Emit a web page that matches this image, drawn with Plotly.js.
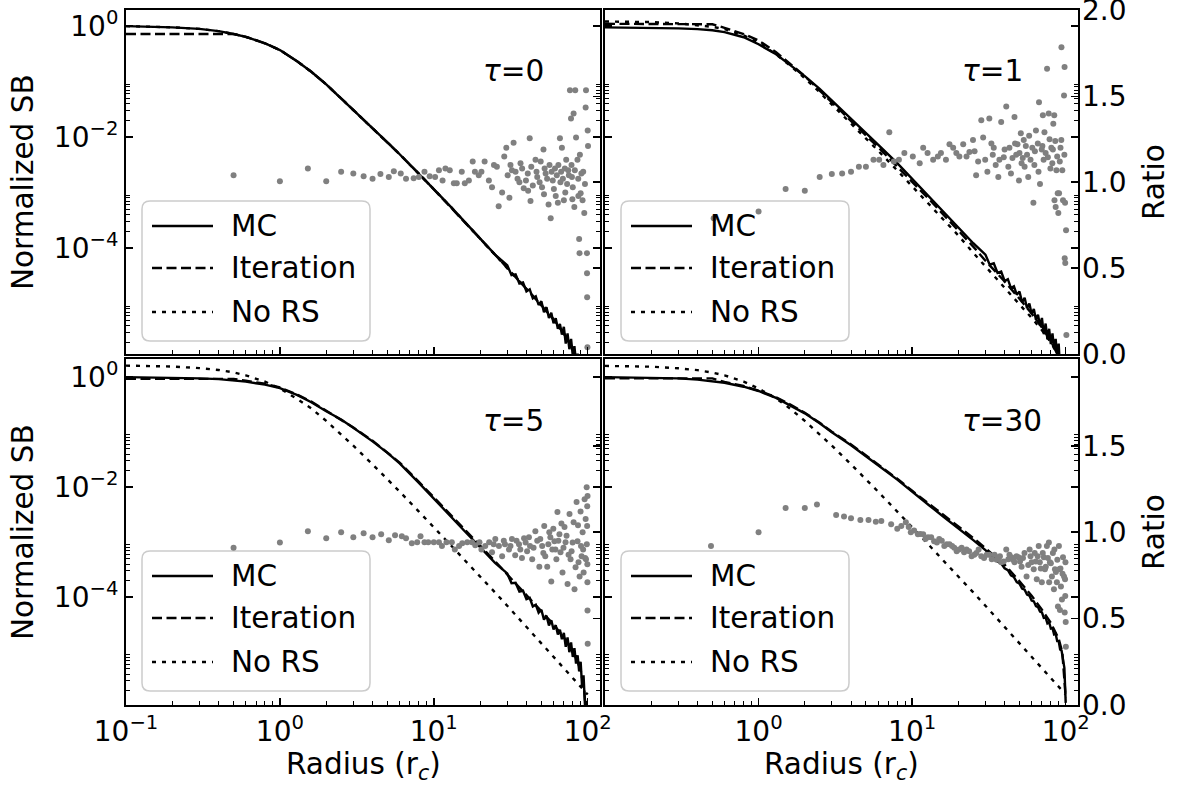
<!DOCTYPE html>
<html>
<head>
<meta charset="utf-8">
<script src="https://cdn.plot.ly/plotly-3.0.1.min.js"></script>
<style>
  html, body { margin: 0; padding: 0; background: #ffffff; }
  #chart { width: 1180px; height: 786px; }
</style>
</head>
<body>
<div id="chart"></div>
<script>
// ---------------------------------------------------------------
// Surface-brightness profiles (normalized SB vs radius in r_c)
// and the MC / iteration ratio for four optical depths.
// ---------------------------------------------------------------

// radius grids
const rCore  = [0.1, 0.15, 0.2, 0.3, 0.4, 0.5, 0.6, 0.8, 1, 1.3, 1.6, 2, 2.5, 3, 4, 5, 6, 8, 10, 13, 16, 20, 25];
const rOuter = [30, 40, 50, 60, 70, 80, 90, 95, 100];
const rNoisy = [30, 32, 34, 36, 38, 40, 42, 44, 46, 48, 50, 52, 54, 56, 58, 60, 62, 64, 66, 68,
                70, 72, 74, 76, 78, 80, 82, 84, 86, 88, 90, 92, 94, 96, 98, 100];

// tau = 0
const mcCoreT0 = [1.0, 0.98, 0.95, 0.89, 0.81, 0.72, 0.64, 0.49, 0.37, 0.23, 0.15, 0.089, 0.05, 0.031, 0.0145, 0.008, 0.0049, 0.0022, 0.00115, 0.00054, 0.00029, 0.000148, 7.6e-5];
const mcTailT0 = [4.9e-5, 3.25e-5, 3.35e-5, 2.3e-5, 2.4e-5, 1.65e-5, 1.8e-5, 1.24e-5, 1.35e-5, 9.4e-6,
                  1.1e-5, 7.0e-6, 8.6e-6, 5.5e-6, 6.8e-6, 4.4e-6, 5.4e-6, 3.5e-6, 4.3e-6, 2.75e-6,
                  3.8e-6, 1.9e-6, 2.9e-6, 1.5e-6, 2.3e-6, 1.15e-6, 1.7e-6, 8.5e-7, 1.25e-6, 6e-7,
                  1.0e-6, 3.2e-7, 6.2e-7, 1.8e-7, 3.0e-7, 1.0e-7];
const iterT0 = [0.72, 0.72, 0.72, 0.72, 0.72, 0.72, 0.64, 0.49, 0.37, 0.23, 0.15, 0.089, 0.05, 0.031, 0.0145, 0.008, 0.0049, 0.0022, 0.00115, 0.00054, 0.00029, 0.000148, 7.6e-5,
                4.4e-5, 1.85e-5, 9.3e-6, 5.15e-6, 2.9e-6, 1.52e-6, 6.6e-7, 3.5e-7, 1e-7];
const noRsT0 = [1.0, 0.98, 0.95, 0.89, 0.81, 0.72, 0.64, 0.49, 0.37, 0.23, 0.15, 0.089, 0.05, 0.031, 0.0145, 0.008, 0.0049, 0.0022, 0.00115, 0.00054, 0.00029, 0.000148, 7.6e-5,
                4.4e-5, 1.85e-5, 9.3e-6, 5.15e-6, 2.9e-6, 1.52e-6, 6.6e-7, 3.5e-7, 1e-7];
const ratioRT0 = [0.5, 1.0, 1.52, 2.0, 2.5, 3.0, 3.5, 4.0, 4.5, 5.1,
                  5.5, 6.1, 6.6, 7.4, 8.0, 8.7, 9.4, 10.2, 10.8, 11.4,
                  11.9, 12.7, 13.5, 14.1, 15.2, 15.9, 16.9, 17.9, 18.5, 19.6,
                  20.4, 21.4, 22.8, 23.9, 24.6, 25.7, 26.4, 27.8, 28.7, 29.6,
                  30.2, 31.0, 31.5, 32.2, 33.0, 34.0, 35.0, 36.0, 36.6, 37.5,
                  38.4, 39.7, 40.8, 41.0, 42.0, 42.5, 43.0, 44.0, 45.8, 46.5,
                  47.0, 48.7, 49.5, 50.5, 51.6, 52.0, 52.5, 53.3, 54.5, 55.7,
                  56.5, 57.5, 58.3, 59.3, 60.3, 61.3, 62.0, 63.0, 64.0, 64.5,
                  66.0, 66.5, 67.2, 68.0, 69.0, 70.0, 71.0, 71.5, 72.5, 73.5,
                  74.7, 75.5, 76.7, 77.9, 78.5, 79.0, 79.5, 80.0, 81.0, 81.9,
                  82.5, 83.0, 84.0, 85.8, 86.8, 87.0, 88.0, 88.5, 89.0, 90.0,
                  91.0, 92.6, 93.5, 95.0, 96.0, 97.0, 97.5, 98.9, 99.0, 99.2,
                  99.6, 100.0, 100.5];
const ratioVT0 = [1.04, 1.006, 1.08, 1.006, 1.06, 1.05, 1.035, 1.02, 1.047, 1.03,
                  1.064, 1.05, 1.02, 1.023, 1.03, 1.06, 1.035, 1.03, 1.07, 1.01,
                  1.08, 1.07, 0.994, 0.994, 1.06, 0.994, 1.01, 1.12, 1.06, 1.04,
                  1.06, 1.12, 1.01, 0.97, 1.10, 1.09, 0.86, 0.94, 1.15, 1.20,
                  1.04, 0.91, 1.10, 1.07, 1.23, 1.06, 1.02, 1.0, 1.11, 1.08,
                  0.965, 1.01, 1.05, 0.95, 1.255, 0.89, 1.09, 0.98, 1.13, 1.06,
                  1.03, 1.0, 1.12, 0.97, 1.19, 0.93, 1.08, 1.05, 1.02, 0.87,
                  1.10, 0.79, 1.06, 1.01, 0.96, 1.08, 0.92, 1.04, 0.88, 1.10,
                  1.255, 1.0, 1.06, 1.20, 1.02, 0.895, 1.08, 0.94, 1.13, 0.99,
                  1.07, 1.04, 1.535, 1.37, 1.10, 1.03, 0.9, 0.97, 1.40, 0.855,
                  1.07, 1.535, 1.26, 1.13, 1.02, 0.92, 0.67, 0.587, 1.16, 0.936,
                  1.05, 0.895, 1.06, 0.82, 0.99, 1.435, 1.535, 0.587, 0.47, 0.33,
                  0.04, 1.30, 1.21];

// tau = 1
const mcCoreT1 = [0.95, 0.945, 0.935, 0.91, 0.88, 0.84, 0.78, 0.63, 0.47, 0.31, 0.2, 0.125, 0.074, 0.046, 0.021, 0.0118, 0.0073, 0.0034, 0.00178, 0.00085, 0.00046, 0.00024, 0.000122];
const mcTailT1 = [7.6e-5, 5.0e-5, 5.3e-5, 3.55e-5, 3.75e-5, 2.55e-5, 2.75e-5, 1.9e-5, 2.05e-5, 1.44e-5,
                  1.65e-5, 1.05e-5, 1.27e-5, 8.2e-6, 1.0e-5, 6.5e-6, 8.0e-6, 5.1e-6, 6.3e-6, 4.0e-6,
                  5.5e-6, 2.8e-6, 4.35e-6, 2.25e-6, 3.5e-6, 1.85e-6, 2.9e-6, 1.5e-6, 2.3e-6, 1.1e-6,
                  1.9e-6, 6e-7, 1.1e-6, 3e-7, 4.5e-7, 1.5e-7];
const iterT1 = [1.1, 1.1, 1.1, 1.1, 1.1, 1.08, 0.93, 0.72, 0.55, 0.34, 0.21, 0.125, 0.069, 0.042, 0.019, 0.0107, 0.0066, 0.003, 0.00156, 0.00074, 0.0004, 0.00021, 0.000106,
                5.9e-5, 2.5e-5, 1.22e-5, 6.6e-6, 3.7e-6, 2.1e-6, 1.1e-6, 6.5e-7, 1.3e-7];
const noRsT1 = [1.21, 1.2, 1.18, 1.12, 1.05, 0.97, 0.88, 0.68, 0.5, 0.31, 0.195, 0.115, 0.064, 0.039, 0.0175, 0.0095, 0.0057, 0.0025, 0.0013, 0.00061, 0.00033, 0.000168, 8.2e-5,
                4.7e-5, 1.95e-5, 9.8e-6, 5.5e-6, 3.3e-6, 2.0e-6, 1.15e-6, 8e-7, 4e-7];
const ratioRT1 = [0.51, 1.0, 1.5, 2.0, 2.5, 3.0, 3.5, 4.0, 4.5, 5.0,
                  5.6, 6.1, 6.5, 7.1, 7.6, 8.2, 8.9, 10.1, 11.2, 11.8,
                  12.6, 13.7, 14.7, 15.4, 16.6, 17.5, 18.5, 19.4, 20.3, 21.5,
                  22.6, 23.6, 24.9, 25.5, 26.1, 26.9, 28.2, 29.0, 29.9, 30.9,
                  31.8, 32.8, 33.5, 34.0, 35.0, 36.4, 37.0, 38.0, 39.5, 40.0,
                  41.0, 42.3, 43.0, 44.0, 45.0, 46.4, 46.8, 47.6, 48.5, 49.6,
                  50.0, 51.0, 51.6, 52.5, 53.3, 54.0, 55.0, 56.0, 57.0, 57.8,
                  59.0, 60.6, 61.6, 62.5, 63.0, 64.0, 65.8, 66.5, 67.0, 68.0,
                  69.8, 70.5, 71.0, 71.8, 72.7, 74.0, 75.6, 76.5, 77.5, 78.5,
                  79.5, 80.6, 81.8, 82.5, 83.0, 84.2, 84.5, 85.5, 86.0, 87.0,
                  88.0, 88.7, 89.5, 90.5, 91.5, 92.5, 93.6, 93.8, 95.0, 96.0,
                  97.5, 98.0, 98.3, 98.5, 99.0, 99.3, 100.5, 101.0];
const ratioVT1 = [0.79, 0.83, 0.96, 0.95, 1.03, 1.047, 1.05, 1.06, 1.09, 1.09,
                  1.13, 1.13, 1.10, 1.29, 1.12, 1.13, 1.17, 1.15, 1.11, 1.20,
                  1.17, 1.13, 1.15, 1.17, 1.13, 1.22, 1.20, 1.17, 1.15, 1.22,
                  1.15, 1.175, 1.245, 1.18, 1.04, 1.12, 1.36, 1.26, 1.13, 1.06,
                  1.37, 1.225, 1.16, 1.20, 1.10, 1.03, 1.13, 1.35, 1.145, 1.19,
                  1.44, 1.09, 1.20, 1.05, 1.14, 1.38, 1.225, 1.16, 1.22, 1.01,
                  1.17, 1.285, 1.11, 1.14, 1.245, 1.09, 1.21, 1.16, 1.03, 1.27,
                  1.13, 1.20, 0.88, 1.10, 1.18, 1.30, 1.225, 1.06, 1.465, 0.99,
                  1.19, 1.21, 1.39, 1.13, 1.29, 1.17, 1.66, 1.145, 1.40, 1.25,
                  1.08, 1.20, 1.11, 1.19, 1.34, 1.39, 0.895, 1.24, 0.855, 1.07,
                  1.15, 0.935, 0.82, 0.935, 1.12, 1.20, 1.245, 1.785, 1.07, 0.895,
                  1.505, 1.16, 1.67, 0.557, 0.88, 0.53, 0.72, 0.11];

// tau = 5
const mcCoreT5 = [1.0, 0.99, 0.98, 0.95, 0.92, 0.88, 0.83, 0.73, 0.63, 0.47, 0.35, 0.24, 0.17, 0.12, 0.068, 0.042, 0.027, 0.012, 0.0063, 0.0029, 0.00155, 0.00081, 0.00042];
const mcTailT5 = [2.7e-4, 1.8e-4, 1.83e-4, 1.26e-4, 1.31e-4, 9.2e-5, 9.7e-5, 6.8e-5, 7.3e-5, 5.2e-5,
                  5.9e-5, 3.9e-5, 4.6e-5, 3.05e-5, 3.8e-5, 2.6e-5, 3.1e-5, 2.1e-5, 2.55e-5, 1.72e-5,
                  2.25e-5, 1.25e-5, 1.85e-5, 1.0e-5, 1.5e-5, 8.2e-6, 1.18e-5, 6.2e-6, 8.8e-6, 4.5e-6,
                  6.7e-6, 2.3e-6, 3.8e-6, 1.1e-6, 1.3e-6, 3e-7];
const iterT5 = [0.93, 0.93, 0.93, 0.93, 0.93, 0.93, 0.86, 0.76, 0.65, 0.48, 0.36, 0.245, 0.172, 0.122, 0.07, 0.043, 0.028, 0.0125, 0.0066, 0.0031, 0.00165, 0.00087, 0.00045,
                0.00026, 0.000108, 5.5e-5, 3.2e-5, 1.85e-5, 1.1e-5, 4.8e-6, 2.0e-6, 3e-7];
const noRsT5 = [1.62, 1.6, 1.56, 1.46, 1.35, 1.22, 1.08, 0.83, 0.62, 0.4, 0.27, 0.16, 0.092, 0.057, 0.026, 0.014, 0.0083, 0.0036, 0.0019, 0.00086, 0.00046, 0.00024, 0.000122,
                7e-5, 2.9e-5, 1.48e-5, 8.5e-6, 5.3e-6, 3.5e-6, 2.4e-6, 2.0e-6, 1.7e-6];
const ratioRT5 = [0.5, 1.0, 1.52, 2.0, 2.5, 3.0, 3.5, 4.0, 4.55, 5.1,
                  5.6, 6.2, 6.6, 7.2, 7.8, 8.2, 8.7, 9.2, 10.0, 10.8,
                  11.3, 12.1, 13.1, 13.7, 14.6, 15.3, 16.5, 17.7, 18.6, 19.8,
                  20.4, 21.6, 22.9, 23.9, 24.5, 25.1, 26.5, 27.8, 28.5, 29.0,
                  30.8, 31.5, 32.2, 33.8, 34.5, 35.8, 36.5, 37.4, 38.6, 39.5,
                  40.4, 41.5, 42.2, 43.6, 44.5, 45.7, 47.0, 48.5, 49.2, 50.6,
                  51.5, 52.2, 53.0, 54.6, 55.5, 56.3, 57.2, 58.0, 58.9, 59.8,
                  60.8, 61.7, 62.6, 63.6, 64.5, 65.5, 66.6, 67.5, 68.6, 69.6,
                  70.7, 71.8, 72.9, 74.0, 75.1, 76.2, 77.4, 78.6, 79.8, 81.0,
                  82.1, 83.4, 84.7, 85.9, 86.5, 87.2, 88.6, 89.9, 90.5, 91.3,
                  92.7, 93.4, 94.1, 95.5, 96.2, 97.0, 97.5, 98.5, 98.7, 99.2,
                  99.3, 99.5, 99.6, 99.7, 99.8, 100.0];
const ratioVT5 = [0.91, 0.94, 1.005, 0.965, 1.0, 0.97, 0.994, 0.97, 0.988, 0.953,
                  0.982, 0.977, 0.965, 0.936, 0.942, 0.977, 0.942, 0.942, 0.942, 0.942,
                  0.92, 0.942, 0.942, 0.90, 0.92, 0.936, 0.942, 0.942, 0.925, 0.942,
                  0.90, 0.92, 0.942, 0.884, 0.93, 0.96, 0.92, 0.86, 0.95, 0.93,
                  0.90, 0.92, 0.96, 0.866, 0.95, 0.93, 0.90, 0.85, 0.965, 0.94,
                  0.89, 0.97, 0.92, 0.843, 0.91, 1.006, 0.95, 0.80, 0.96, 0.92,
                  0.88, 1.035, 0.86, 0.80, 0.93, 1.0, 0.97, 0.715, 0.90, 1.02,
                  0.948, 0.90, 0.843, 1.116, 0.95, 0.988, 0.884, 1.05, 0.767, 0.91,
                  1.03, 0.942, 0.98, 0.70, 0.87, 1.105, 0.843, 0.89, 0.94, 1.058,
                  0.67, 0.797, 1.174, 0.948, 1.04, 0.826, 0.744, 1.12, 0.92, 0.86,
                  1.0, 0.90, 0.767, 1.19, 0.85, 1.076, 0.843, 1.26, 0.93, 1.035,
                  1.15, 0.814, 0.71, 0.547, 1.21, 0.355];

// tau = 30
const mcCoreT30 = [1.0, 0.99, 0.98, 0.95, 0.9, 0.85, 0.79, 0.67, 0.56, 0.42, 0.31, 0.22, 0.145, 0.1, 0.058, 0.037, 0.025, 0.0137, 0.0082, 0.0046, 0.0029, 0.0018, 0.00109];
const mcTailT30 = [7.2e-4, 5.9e-4, 5.45e-4, 4.45e-4, 4.1e-4, 3.35e-4, 3.1e-4, 2.5e-4, 2.32e-4, 1.88e-4,
                   1.76e-4, 1.44e-4, 1.37e-4, 1.12e-4, 1.07e-4, 8.7e-5, 8.4e-5, 6.9e-5, 6.6e-5, 5.5e-5,
                   5.3e-5, 4.2e-5, 4.25e-5, 3.35e-5, 3.5e-5, 2.7e-5, 2.75e-5, 2.1e-5, 2.15e-5, 1.6e-5,
                   1.6e-5, 1.12e-5, 1.07e-5, 6.8e-6, 5.2e-6, 1.2e-6];
const iterT30 = [0.95, 0.95, 0.95, 0.95, 0.95, 0.95, 0.82, 0.69, 0.57, 0.43, 0.32, 0.225, 0.148, 0.102, 0.06, 0.038, 0.026, 0.0142, 0.0086, 0.0049, 0.0031, 0.00195, 0.00119,
                 7.8e-4, 3.9e-4, 1.95e-4, 1.06e-4, 5.9e-5, 3.4e-5, 1.75e-5, 1.0e-5, 1.5e-6];
const noRsT30 = [1.6, 1.58, 1.55, 1.45, 1.34, 1.21, 1.08, 0.83, 0.62, 0.41, 0.27, 0.16, 0.092, 0.057, 0.026, 0.014, 0.0083, 0.0036, 0.0019, 0.00086, 0.00046, 0.00024, 0.000122,
                 7e-5, 2.9e-5, 1.48e-5, 8.5e-6, 5.3e-6, 3.5e-6, 2.4e-6, 2.0e-6, 1.7e-6];
const ratioRT30 = [0.49, 1.0, 1.5, 2.0, 2.4, 3.2, 3.6, 4.0, 4.6, 5.2,
                   5.8, 6.3, 7.3, 8.0, 8.5, 9.1, 9.5, 9.8, 10.3, 10.9,
                   11.3, 11.8, 12.2, 12.7, 13.3, 13.9, 14.5, 15.0, 15.6, 16.2,
                   16.8, 17.5, 18.2, 18.8, 19.5, 20.2, 21.0, 21.8, 22.6, 23.5,
                   24.4, 25.4, 26.2, 27.1, 28.2, 29.4, 30.6, 31.8, 33.0, 34.4,
                   35.5, 36.6, 37.3, 38.0, 39.5, 41.0, 42.3, 43.0, 44.3, 45.4,
                   46.4, 47.8, 49.2, 50.4, 51.6, 52.7, 53.9, 55.6, 57.0, 58.2,
                   59.0, 60.0, 61.9, 62.8, 63.8, 64.8, 65.7, 66.7, 67.8, 68.8,
                   69.9, 70.9, 72.1, 73.2, 74.2, 75.4, 76.5, 77.7, 78.0, 78.9,
                   80.0, 81.3, 82.5, 83.8, 84.4, 85.1, 86.3, 87.6, 88.2, 89.0,
                   90.3, 90.8, 91.7, 92.4, 93.1, 94.5, 95.3, 96.0, 97.5, 98.5,
                   99.0, 99.3, 99.6, 100.0, 100.2];
const ratioVT30 = [0.92, 1.0, 1.14, 1.14, 1.16, 1.10, 1.09, 1.08, 1.07, 1.07,
                   1.06, 1.064, 1.046, 1.02, 1.035, 1.058, 1.03, 1.0, 1.01, 0.988,
                   0.99, 0.988, 0.96, 0.97, 0.97, 0.948, 0.94, 0.96, 0.95, 0.92,
                   0.93, 0.93, 0.92, 0.91, 0.89, 0.90, 0.91, 0.884, 0.90, 0.89,
                   0.86, 0.87, 0.88, 0.90, 0.86, 0.85, 0.87, 0.87, 0.843, 0.87,
                   0.84, 0.855, 0.86, 0.826, 0.83, 0.90, 0.843, 0.87, 0.855, 0.84,
                   0.826, 0.86, 0.855, 0.83, 0.80, 0.85, 0.88, 0.744, 0.81, 0.90,
                   0.86, 0.826, 0.785, 0.88, 0.83, 0.727, 0.86, 0.92, 0.826, 0.79,
                   0.71, 0.88, 0.855, 0.785, 0.80, 0.92, 0.85, 0.94, 0.71, 0.826,
                   0.82, 0.744, 0.88, 0.67, 0.90, 0.785, 0.77, 0.71, 0.84, 0.57,
                   0.92, 0.785, 0.55, 0.79, 0.686, 0.61, 0.76, 0.855, 0.744, 0.535,
                   0.727, 0.63, 0.826, 0.48, 0.337];

// axis ticks
const SB_TICKS = [1, 1e-2, 1e-4];
const SB_TICKTEXT = ['10<sup>0</sup>', '10<sup>\u22122</sup>', '10<sup>\u22124</sup>'];
const SB_MINOR = [0.02, 0.03, 0.04, 0.05, 0.06, 0.07, 0.08, 0.09,
                  2e-4, 3e-4, 4e-4, 5e-4, 6e-4, 7e-4, 8e-4, 9e-4,
                  2e-6, 3e-6, 4e-6, 5e-6, 6e-6, 7e-6, 8e-6, 9e-6];
const R_TICKS = [0.1, 1, 10, 100];
const R_TICKTEXT = ['10<sup>\u22121</sup>', '10<sup>0</sup>', '10<sup>1</sup>', '10<sup>2</sup>'];
const R_TICKS_RIGHT = [1, 10, 100];
const R_TICKTEXT_RIGHT = ['10<sup>0</sup>', '10<sup>1</sup>', '10<sup>2</sup>'];
const R_MINOR = [0.2, 0.3, 0.4, 0.5, 0.6, 0.7, 0.8, 0.9,
                 2, 3, 4, 5, 6, 7, 8, 9,
                 20, 30, 40, 50, 60, 70, 80, 90];
const RATIO_TICKS_TOP = [0, 0.5, 1, 1.5, 2];
const RATIO_TICKTEXT_TOP = ['0.0', '0.5', '1.0', '1.5', '2.0'];
const RATIO_TICKS_BOTTOM = [0, 0.5, 1, 1.5];
const RATIO_TICKTEXT_BOTTOM = ['0.0', '0.5', '1.0', '1.5'];

const tauLabels = ['0', '1', '5', '30'];
const seriesNames = ['MC', 'Iteration', 'No RS'];

// ---------------------------------------------------------------
const W = 1180, H = 786;
const TICK_FONT = { family: 'DejaVu Sans, Liberation Sans, sans-serif', size: 28, color: '#000000' };
const TEXT_FONT = { family: 'DejaVu Sans, Liberation Sans, sans-serif', size: 29.5, color: '#000000' };
const fx = p => p / W;          // pixel -> paper (x)
const fy = p => 1 - p / H;      // pixel -> paper (y)

const DASH_ITER = '10px,4.5px';
const DASH_NORS = '4px,6px';
const LINE_W = 2.4;

const panels = [
  { col: 0, row: 0, mcCore: mcCoreT0, mcTail: mcTailT0, iter: iterT0, noRs: noRsT0, rr: ratioRT0, rv: ratioVT0, sbRange: [-5.91, 0.29] },
  { col: 1, row: 0, mcCore: mcCoreT1, mcTail: mcTailT1, iter: iterT1, noRs: noRsT1, rr: ratioRT1, rv: ratioVT1, sbRange: [-5.91, 0.29] },
  { col: 0, row: 1, mcCore: mcCoreT5, mcTail: mcTailT5, iter: iterT5, noRs: noRsT5, rr: ratioRT5, rv: ratioVT5, sbRange: [-5.96, 0.33] },
  { col: 1, row: 1, mcCore: mcCoreT30, mcTail: mcTailT30, iter: iterT30, noRs: noRsT30, rr: ratioRT30, rv: ratioVT30, sbRange: [-5.96, 0.33] }
];

const colPx = [[126, 600], [605, 1078]];
const rowPx = [[10, 354], [359, 705]];

const traces = [];
const layout = {
  width: W, height: H,
  margin: { l: 0, r: 0, t: 0, b: 0 },
  paper_bgcolor: '#ffffff',
  plot_bgcolor: 'rgba(0,0,0,0)',
  showlegend: false,
  font: TICK_FONT,
  shapes: [],
  annotations: []
};

const rMC = rCore.concat(rNoisy);
const rSmooth = rCore.concat(rOuter);

panels.forEach((p, i) => {
  const n = i + 1;
  const xId = n === 1 ? 'x' : 'x' + n;
  const yId = n === 1 ? 'y' : 'y' + n;
  const y2Id = 'y' + (n + 4);
  const xKey = n === 1 ? 'xaxis' : 'xaxis' + n;
  const yKey = n === 1 ? 'yaxis' : 'yaxis' + n;
  const y2Key = 'yaxis' + (n + 4);
  const isLeft = p.col === 0, isBottom = p.row === 1;

  traces.push({ type: 'scatter', mode: 'lines', name: seriesNames[0], x: rMC, y: p.mcCore.concat(p.mcTail),
    xaxis: xId, yaxis: yId, line: { color: '#000', width: LINE_W }, hoverinfo: 'skip' });
  traces.push({ type: 'scatter', mode: 'lines', name: seriesNames[1], x: rSmooth, y: p.iter,
    xaxis: xId, yaxis: yId, line: { color: '#000', width: LINE_W, dash: DASH_ITER }, hoverinfo: 'skip' });
  traces.push({ type: 'scatter', mode: 'lines', name: seriesNames[2], x: rSmooth, y: p.noRs,
    xaxis: xId, yaxis: yId, line: { color: '#000', width: LINE_W, dash: DASH_NORS }, hoverinfo: 'skip' });
  traces.push({ type: 'scatter', mode: 'markers', name: 'Ratio', x: p.rr, y: p.rv,
    xaxis: xId, yaxis: y2Id, marker: { color: '#808080', size: 6 }, hoverinfo: 'skip' });

  const cx = colPx[p.col], ry = rowPx[p.row];

  layout[xKey] = {
    type: 'log', domain: [fx(cx[0]), fx(cx[1])], anchor: yId, range: [-1, 2.08],
    tickmode: 'array',
    tickvals: isLeft ? R_TICKS : R_TICKS_RIGHT,
    ticktext: isLeft ? R_TICKTEXT : R_TICKTEXT_RIGHT,
    showticklabels: isBottom, ticklabeloverflow: 'allow',
    ticks: 'inside', ticklen: 7, tickwidth: 1.5, tickcolor: '#000',
    minor: { tickmode: 'array', tickvals: R_MINOR, ticks: 'inside', ticklen: 4, tickwidth: 1, tickcolor: '#000', showgrid: false },
    showline: true, linecolor: '#000', linewidth: 2, mirror: true,
    showgrid: false, zeroline: false, tickfont: TICK_FONT
  };
  layout[yKey] = {
    type: 'log', domain: [fy(ry[1]), fy(ry[0])], anchor: xId, range: p.sbRange,
    tickmode: 'array', tickvals: SB_TICKS, ticktext: SB_TICKTEXT, showticklabels: isLeft,
    ticklabeloverflow: 'allow',
    ticks: 'inside', ticklen: 7, tickwidth: 1.5, tickcolor: '#000',
    minor: { tickmode: 'array', tickvals: SB_MINOR, ticks: 'inside', ticklen: 4, tickwidth: 1, tickcolor: '#000', showgrid: false },
    showline: true, linecolor: '#000', linewidth: 2, mirror: 'ticks',
    showgrid: false, zeroline: false, tickfont: TICK_FONT
  };
  layout[y2Key] = {
    overlaying: yId, anchor: xId, side: 'right', range: [0, 2.002],
    tickmode: 'array',
    tickvals: isBottom ? RATIO_TICKS_BOTTOM : RATIO_TICKS_TOP,
    ticktext: isBottom ? RATIO_TICKTEXT_BOTTOM : RATIO_TICKTEXT_TOP,
    showticklabels: !isLeft, ticklabelstandoff: 3, ticklabeloverflow: 'allow',
    ticks: 'inside', ticklen: 7, tickwidth: 1.5, tickcolor: '#000',
    showline: false, showgrid: false, zeroline: false, tickfont: TICK_FONT
  };

  // panel label
  layout.annotations.push({
    xref: 'paper', yref: 'paper', x: fx(481 + p.col * 479), y: fy(71 + p.row * 350),
    xanchor: 'left', yanchor: 'middle', showarrow: false,
    text: '<i>\u03c4</i>=' + tauLabels[i], font: TEXT_FONT
  });

  // legend box
  const dx = p.col * 479, dy = p.row * 350;
  const L = 142 + dx, T = 201 + dy, R = 370 + dx, B = 341 + dy, rad = 8;
  const path = 'M' + fx(L + rad) + ',' + fy(T) +
    ' L' + fx(R - rad) + ',' + fy(T) +
    ' Q' + fx(R) + ',' + fy(T) + ' ' + fx(R) + ',' + fy(T + rad) +
    ' L' + fx(R) + ',' + fy(B - rad) +
    ' Q' + fx(R) + ',' + fy(B) + ' ' + fx(R - rad) + ',' + fy(B) +
    ' L' + fx(L + rad) + ',' + fy(B) +
    ' Q' + fx(L) + ',' + fy(B) + ' ' + fx(L) + ',' + fy(B - rad) +
    ' L' + fx(L) + ',' + fy(T + rad) +
    ' Q' + fx(L) + ',' + fy(T) + ' ' + fx(L + rad) + ',' + fy(T) + ' Z';
  layout.shapes.push({ type: 'path', xref: 'paper', yref: 'paper', path: path, layer: 'below',
    fillcolor: 'rgba(255,255,255,0.8)', line: { color: '#cccccc', width: 1.5 } });

  const rowsY = [226, 268, 312];
  const dashes = ['solid', DASH_ITER, DASH_NORS];
  rowsY.forEach((yy, k) => {
    layout.shapes.push({ type: 'line', xref: 'paper', yref: 'paper', layer: 'below',
      x0: fx(152 + dx), x1: fx(213 + dx), y0: fy(yy + dy), y1: fy(yy + dy),
      line: { color: '#000', width: LINE_W, dash: dashes[k] } });
    layout.annotations.push({ xref: 'paper', yref: 'paper', x: fx(229 + dx), y: fy(yy + dy),
      xanchor: 'left', yanchor: 'middle', showarrow: false, text: seriesNames[k], font: TEXT_FONT });
  });

  // axis titles
  if (isLeft) {
    layout.annotations.push({ xref: 'paper', yref: 'paper', x: fx(23), y: fy((ry[0] + ry[1]) / 2),
      xanchor: 'center', yanchor: 'middle', textangle: -90, showarrow: false, text: 'Normalized SB', font: TEXT_FONT });
  } else {
    layout.annotations.push({ xref: 'paper', yref: 'paper', x: fx(1154), y: fy((ry[0] + ry[1]) / 2),
      xanchor: 'center', yanchor: 'middle', textangle: -90, showarrow: false, text: 'Ratio', font: TEXT_FONT });
  }
  if (isBottom) {
    layout.annotations.push({ xref: 'paper', yref: 'paper', x: fx((cx[0] + cx[1]) / 2), y: fy(766),
      xanchor: 'center', yanchor: 'middle', showarrow: false, text: 'Radius (r<sub><i>c</i></sub>)', font: TEXT_FONT });
  }
});

Plotly.newPlot('chart', traces, layout, { staticPlot: true, displayModeBar: false });
</script>
</body>
</html>
